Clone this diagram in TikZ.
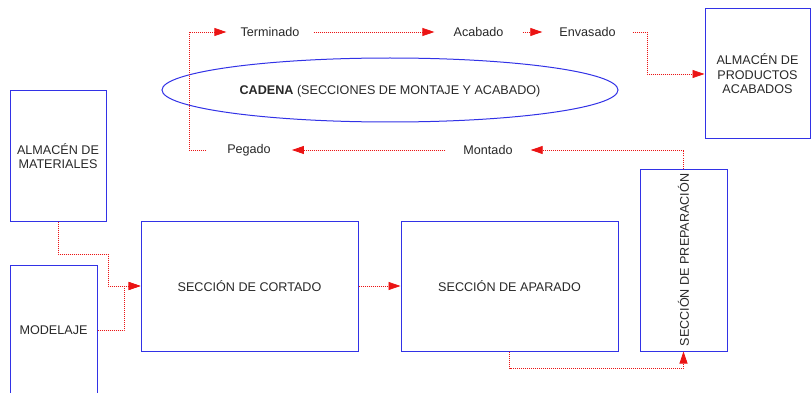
\documentclass[tikz,border=0pt]{standalone}
\usepackage{fontspec}
\setmainfont{Liberation Sans}
\usetikzlibrary{arrows.meta,shapes.geometric}
\definecolor{boxblue}{RGB}{50,50,230}
\definecolor{flowred}{RGB}{235,20,20}
\definecolor{txt}{RGB}{40,40,40}
\tikzset{
  box/.style={draw=boxblue, line width=1pt, align=center, text=txt, inner sep=2pt},
  lbl/.style={text=txt, inner xsep=17pt, inner ysep=2pt},
  flow/.style={draw=flowred, line width=0.8pt, dash pattern=on 1pt off 1pt,
    -{Triangle[length=12pt,width=8pt,fill=flowred,sep=0pt]}},
}
\begin{document}
\begin{tikzpicture}[x=1pt,y=-1pt,font=\fontsize{12.6}{14.5}\selectfont]
\useasboundingbox (0,0) rectangle (811,393);
% boxes
\node[box, minimum width=96pt, minimum height=130pt] (mat) at (58,156) {ALMACÉN DE\\MATERIALES};
\node[box, minimum width=87pt, minimum height=130pt] (mod) at (53.5,330) {MODELAJE};
\node[box, minimum width=217pt, minimum height=130pt] (cor) at (249.5,286) {SECCIÓN DE CORTADO};
\node[box, minimum width=217pt, minimum height=130pt] (apa) at (509.5,286) {SECCIÓN DE APARADO};
\node[box, minimum width=87pt, minimum height=182pt] (prep) at (683.5,260) {};
\node[text=txt, rotate=90] (preptxt) at (prep.center) {SECCIÓN DE PREPARACIÓN};
\node[box, minimum width=105pt, minimum height=130pt] (alm) at (757.5,74) {ALMACÉN DE\\PRODUCTOS\\ACABADOS};
\node[draw=boxblue, line width=1pt, ellipse, minimum width=456pt, minimum height=64pt, inner sep=0pt] (cad) at (390,90) {};
\node[text=txt] (cadtxt) at (390,91) {\textbf{CADENA} (SECCIONES DE MONTAJE Y ACABADO)};
% labels
\node[lbl, inner xsep=14pt] (term) at (270,32) {Terminado};
\node[lbl, inner xsep=19pt] (aca) at (478.5,32) {Acabado};
\node[lbl] (env) at (587.5,32) {Envasado};
\node[lbl, inner xsep=21pt] (peg) at (249,150) {Pegado};
\node[lbl, inner xsep=18pt] (mon) at (488,150) {Montado};
% helper coordinates
\coordinate (kpeg) at (189,150);
\coordinate (kenv) at (647,32);
\coordinate (kmat) at (108,254);
\coordinate (kmod) at (124,330);
\coordinate (kapa) at (509.5,368);
% connectors
\draw[flow] (peg.west) -- (kpeg) |- (term.west);
\draw[flow] (term.east) -- (aca.west);
\draw[flow] (aca.east) -- (env.west);
\draw[flow] (env.east) -- (kenv) |- (alm.west);
\draw[flow] (prep.north) |- (mon.east);
\draw[flow] (mon.west) -- (peg.east);
\draw[flow] (mat.south) |- (kmat) |- (cor.west);
\draw[flow] (mod.east) -- (kmod) |- (cor.west);
\draw[flow] (cor.east) -- (apa.west);
\draw[flow] (apa.south) -- (kapa) -| (prep.south);
\end{tikzpicture}
\end{document}
